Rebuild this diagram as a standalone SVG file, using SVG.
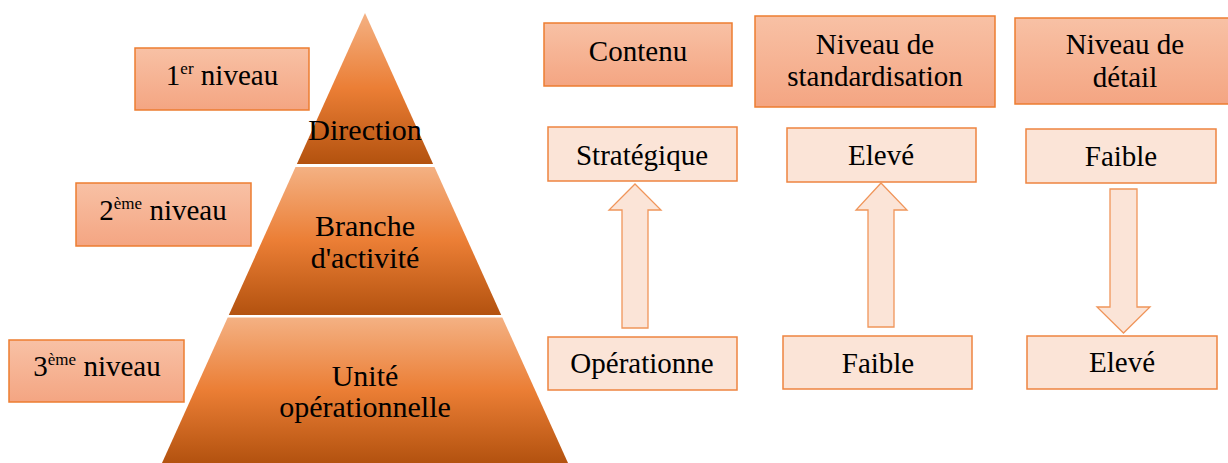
<svg xmlns="http://www.w3.org/2000/svg" width="1228" height="463" viewBox="0 0 1228 463" font-family="Liberation Serif, Times New Roman, serif">
  <defs>
    <linearGradient id="pyr" x1="0" y1="0" x2="0" y2="1">
      <stop offset="0" stop-color="#f4b183"/>
      <stop offset="0.5" stop-color="#eb7e35"/>
      <stop offset="1" stop-color="#b3520f"/>
    </linearGradient>
    <linearGradient id="hdr" x1="0" y1="0" x2="0" y2="1">
      <stop offset="0" stop-color="#f8c1a5"/>
      <stop offset="1" stop-color="#f4a582"/>
    </linearGradient>
    <style>
      .t { font-size: 29px; fill: #000; text-anchor: middle; }
      .p { font-size: 30px; }
      .sup { font-size: 17px; }
      .hdr { fill: url(#hdr); stroke: #ed7d31; stroke-width: 1.5; }
      .lt { fill: #fbe4d7; stroke: #ee8440; stroke-width: 1.5; }
      .sec { fill: url(#pyr); stroke: none; }
      .arr { fill: #fbe4d7; stroke: #f0955a; stroke-width: 1.3; stroke-linejoin: miter; }
    </style>
  </defs>
  <rect width="1228" height="463" fill="#ffffff"/>

  <!-- Pyramid -->
  <g id="direction">
    <polygon class="sec" points="365,13 433.1,164 296.9,164"/>
    <text class="t p" x="365" y="140">Direction</text>
  </g>
  <g id="branche">
    <polygon class="sec" points="295.5,167 434.5,167 501.2,315 228.8,315"/>
    <text class="t p" x="365" y="236">Branche</text>
    <text class="t p" x="365" y="268">d'activité</text>
  </g>
  <g id="unite">
    <polygon class="sec" points="227.7,317.5 502.3,317.5 568,463 162,463"/>
    <text class="t p" x="365" y="386">Unité</text>
    <text class="t p" x="365" y="417">opérationnelle</text>
  </g>

  <!-- Level labels -->
  <g id="niveau1">
    <rect class="hdr" x="135" y="48" width="174" height="62"/>
    <text class="t" x="222" y="85">1<tspan class="sup" dy="-11">er</tspan><tspan dy="11"> niveau</tspan></text>
  </g>
  <g id="niveau2">
    <rect class="hdr" x="76" y="183" width="175" height="63"/>
    <text class="t" x="163" y="220">2<tspan class="sup" dy="-11">ème</tspan><tspan dy="11"> niveau</tspan></text>
  </g>
  <g id="niveau3">
    <rect class="hdr" x="9" y="340" width="175" height="62"/>
    <text class="t" x="97" y="376">3<tspan class="sup" dy="-11">ème</tspan><tspan dy="11"> niveau</tspan></text>
  </g>

  <!-- Column headers -->
  <g id="contenu">
    <rect class="hdr" x="544" y="23" width="188" height="63"/>
    <text class="t" x="638" y="61">Contenu</text>
  </g>
  <g id="standardisation">
    <rect class="hdr" x="755" y="16" width="240" height="91"/>
    <text class="t" x="875" y="54">Niveau de</text>
    <text class="t" x="875" y="86">standardisation</text>
  </g>
  <g id="detail">
    <rect class="hdr" x="1015" y="18" width="222" height="86"/>
    <text class="t" x="1125" y="54">Niveau de</text>
    <text class="t" x="1125" y="87">détail</text>
  </g>

  <!-- Top value boxes -->
  <g id="strategique">
    <rect class="lt" x="548" y="127" width="189" height="54"/>
    <text class="t" x="642" y="165">Stratégique</text>
  </g>
  <g id="eleve1">
    <rect class="lt" x="787" y="128" width="189" height="54"/>
    <text class="t" x="881" y="165">Elevé</text>
  </g>
  <g id="faible1">
    <rect class="lt" x="1026" y="129" width="190" height="54"/>
    <text class="t" x="1121" y="166">Faible</text>
  </g>

  <!-- Bottom value boxes -->
  <g id="operationne">
    <rect class="lt" x="548" y="337" width="189" height="53"/>
    <text class="t" x="642" y="373">Opérationne</text>
  </g>
  <g id="faible2">
    <rect class="lt" x="783" y="336" width="189" height="53"/>
    <text class="t" x="878" y="373">Faible</text>
  </g>
  <g id="eleve2">
    <rect class="lt" x="1027" y="336" width="190" height="53"/>
    <text class="t" x="1122" y="372">Elevé</text>
  </g>

  <!-- Connectors (block arrows) -->
  <g id="connectors">
    <polygon class="arr" points="635,184 661,210 648,210 648,328 622,328 622,210 609,210"/>
    <polygon class="arr" points="881,183 907,210 894,210 894,327 868,327 868,210 856,210"/>
    <polygon class="arr" points="1110,189 1137,189 1137,307 1150,307 1123.5,333 1097,307 1110,307"/>
  </g>
</svg>
